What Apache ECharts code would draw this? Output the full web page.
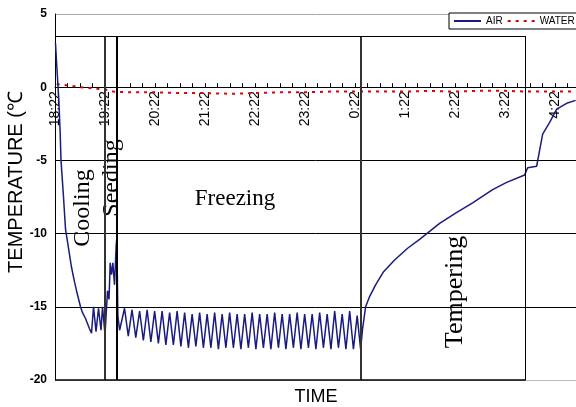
<!DOCTYPE html>
<html>
<head>
<meta charset="utf-8">
<script src="https://cdn.jsdelivr.net/npm/echarts@6/dist/echarts.min.js"></script>
<style>html,body{margin:0;padding:0;background:#fff}#c{width:576px;height:407px}</style>
</head>
<body>
<div id="c"></div>
<script>
// Minutes elapsed since 18:22
var airTime = [0.6, 2.2, 4.6, 6.2, 7.2, 10.2, 12.6, 16.2, 19.8, 23.4, 25.8, 30.6, 33, 36.6, 41.4, 43.8, 46.2, 49.2, 52.2, 55.2, 57, 60,
  63, 64.8, 66.2, 67.8, 69.4, 71.4, 73.4, 74.2, 75.4,
  77.5, 83.4, 87.9, 92.4, 96.9, 101.5, 106, 110.5, 115, 119.5, 124, 128.5, 133, 137.5, 142, 146.5, 151, 155.5, 160, 164.5,
  169, 173.5, 178, 182.5, 187, 191.5, 196, 200.5, 205, 209.5, 214, 218.5, 223, 227.5, 232, 236.5, 241, 245.5, 250, 254.5,
  259, 263.5, 268, 272.5, 277, 281.5, 286, 290.5, 295, 299.5, 304, 308.5, 313, 317.5, 322, 326.5, 331, 335.5, 340, 344.5,
  349, 353.5, 358, 362.5, 366.6,
  369, 372.6, 377.4, 384.6, 394.2, 407.4, 423, 437.4, 461.4, 480.6, 501, 525, 541.8, 563.4, 567, 577.8, 581.4, 585, 593.4,
  601.8, 613.8, 624.6];
var airTemp = [3.0, 1.4, -0.9, -3.1, -5.0, -7.5, -9.7, -11.0, -12.3, -13.3, -13.9, -15.0, -15.4, -15.8, -16.5, -16.8, -15.0, -16.7, -15.1, -16.6, -15.0, -16.9,
  -13.9, -14.5, -12.0, -12.8, -12.0, -13.5, -10.8, -10.3, -15.6,
  -16.6, -15.1, -17.0, -15.2, -17.1, -15.3, -17.3, -15.2, -17.4, -15.3, -17.5, -15.3, -17.6, -15.4, -17.6, -15.3, -17.7, -15.4, -17.8, -15.5,
  -17.7, -15.4, -17.8, -15.5, -17.8, -15.4, -17.9, -15.5, -17.8, -15.4, -17.8, -15.5, -17.9, -15.5, -17.8, -15.4, -17.9, -15.5, -17.8, -15.5,
  -17.9, -15.4, -17.8, -15.5, -17.9, -15.5, -17.8, -15.4, -17.9, -15.5, -17.8, -15.5, -17.9, -15.4, -17.8, -15.5, -17.9, -15.3, -17.8, -15.5,
  -17.9, -15.3, -17.9, -15.6, -17.9,
  -16.5, -15.0, -14.3, -13.5, -12.6, -11.8, -11.0, -10.4, -9.3, -8.6, -7.9, -7.0, -6.5, -6.0, -5.5, -5.4, -4.3, -3.2, -2.4,
  -1.5, -1.1, -0.9];
var waterTime = [2, 10, 20, 30, 40, 50, 60, 70, 90, 120, 150, 180, 210, 240, 270, 300, 330, 360, 390, 420, 450, 480, 510, 540, 570, 600, 625];
var waterTemp = [0.2, 0.15, 0.1, 0.0, -0.05, -0.1, -0.15, -0.3, -0.35, -0.35, -0.4, -0.4, -0.45, -0.4, -0.35, -0.35, -0.3, -0.3, -0.3, -0.3, -0.25, -0.3, -0.25, -0.25, -0.3, -0.3, -0.3];
var yTicks = [-20, -15, -10, -5, 0, 5];
var phaseLines = [60, 74.6, 367.2];
var boxRight = 564.6, boxTop = 3.5;
var startHour = 18, startMin = 22;

var GRID = { left: 55, right: 0, top: 14, bottom: 27 };
var H = 407;

function pairs(a, b) { var r = []; for (var i = 0; i < a.length; i++) r.push([a[i], b[i]]); return r; }
function fmt(v) {
  if (v % 60 !== 0) return '';
  var tot = startHour * 60 + startMin + v;
  var h = Math.floor(tot / 60) % 24, m = tot % 60;
  return h + ':' + (m < 10 ? '0' + m : m);
}
// place the time axis on the 0 °C line
var gridH = H - GRID.top - GRID.bottom;
var yMin = yTicks[0], yMax = yTicks[yTicks.length - 1];
var zeroOffset = -gridH * (0 - yMin) / (yMax - yMin);

var ml = [];
phaseLines.forEach(function (x, i) {
  ml.push([{ coord: [x, yMin], lineStyle: { color: i === 1 ? '#000' : '#333', width: 2, type: 'solid' } }, { coord: [x, boxTop] }]);
});
ml.push([{ coord: [0, boxTop], lineStyle: { color: '#000', width: 1, type: 'solid' } }, { coord: [boxRight, boxTop] }]);
ml.push([{ coord: [boxRight, boxTop], lineStyle: { color: '#000', width: 1, type: 'solid' } }, { coord: [boxRight, yMin] }]);
ml.push([{ coord: [0, yMin], lineStyle: { color: '#000', width: 1.5, type: 'solid' } }, { coord: [boxRight, yMin] }]);

var chart = echarts.init(document.getElementById('c'));
chart.setOption({
  animation: false,
  backgroundColor: '#fff',
  grid: { left: GRID.left, right: GRID.right, top: GRID.top, bottom: GRID.bottom, outerBoundsMode: 'none', containLabel: false },
  legend: {
    left: 449, top: 13, width: 180, orient: 'horizontal', padding: [3, 4, 3, 4], itemGap: 4, itemWidth: 27, itemHeight: 4,
    borderColor: '#000', borderWidth: 1, backgroundColor: '#fff',
    itemStyle: { opacity: 0 },
    textStyle: { fontFamily: 'Liberation Sans', fontSize: 10, color: '#000' },
    data: ['AIR', 'WATER']
  },
  xAxis: {
    type: 'value', min: 0, max: 625, interval: 15, offset: zeroOffset,
    axisLine: { onZero: false, lineStyle: { color: '#000', width: 1 } },
    axisTick: { show: true, inside: true, length: 4, lineStyle: { color: '#000', width: 1 } },
    axisLabel: { rotate: 90, margin: 4, formatter: fmt, showMaxLabel: false, fontFamily: 'Liberation Sans', fontSize: 14, color: '#000' },
    splitLine: { show: false }
  },
  yAxis: {
    type: 'value', min: yMin, max: yMax, interval: 5,
    axisLine: { show: true, onZero: false, lineStyle: { color: '#000', width: 1 } },
    axisTick: { show: false },
    axisLabel: { margin: 8, fontFamily: 'Liberation Sans', fontSize: 12, fontWeight: 'bold', color: '#000' },
    splitLine: { show: true, lineStyle: { color: ['#bbb', '#000', '#000', '#000', '#000', '#aaa'], width: 1 } }
  },
  graphic: [
    { type: 'text', x: 16, y: 182, rotation: Math.PI / 2, style: { text: 'TEMPERATURE (℃', font: '20px "Liberation Sans"', fill: '#000', textAlign: 'center', textVerticalAlign: 'middle' } },
    { type: 'text', x: 316, y: 397, style: { text: 'TIME', font: '18px "Liberation Sans"', fill: '#000', textAlign: 'center', textVerticalAlign: 'middle' } },
    { type: 'text', x: 83, y: 208, rotation: Math.PI / 2, style: { text: 'Cooling', font: '24px "Liberation Serif"', fill: '#000', textAlign: 'center', textVerticalAlign: 'middle' } },
    { type: 'text', x: 112, y: 178, rotation: Math.PI / 2, style: { text: 'Seeding', font: '24px "Liberation Serif"', fill: '#000', textAlign: 'center', textVerticalAlign: 'middle' } },
    { type: 'text', x: 235, y: 199, style: { text: 'Freezing', font: '23px "Liberation Serif"', fill: '#000', textAlign: 'center', textVerticalAlign: 'middle' } },
    { type: 'text', x: 455, y: 292, rotation: Math.PI / 2, style: { text: 'Tempering', font: '26px "Liberation Serif"', fill: '#000', textAlign: 'center', textVerticalAlign: 'middle' } }
  ],
  series: [
    {
      name: 'AIR', type: 'line', data: pairs(airTime, airTemp), symbol: 'none', z: 3,
      lineStyle: { color: '#1a1a80', width: 1.5 }, itemStyle: { color: '#1a1a80' },
      markLine: { silent: true, symbol: 'none', label: { show: false }, data: ml }
    },
    {
      name: 'WATER', type: 'line', data: pairs(waterTime, waterTemp), symbol: 'none', z: 2,
      lineStyle: { color: '#e00000', width: 2, type: [3, 5] }, itemStyle: { color: '#e00000' }
    }
  ]
});
</script>
</body>
</html>
